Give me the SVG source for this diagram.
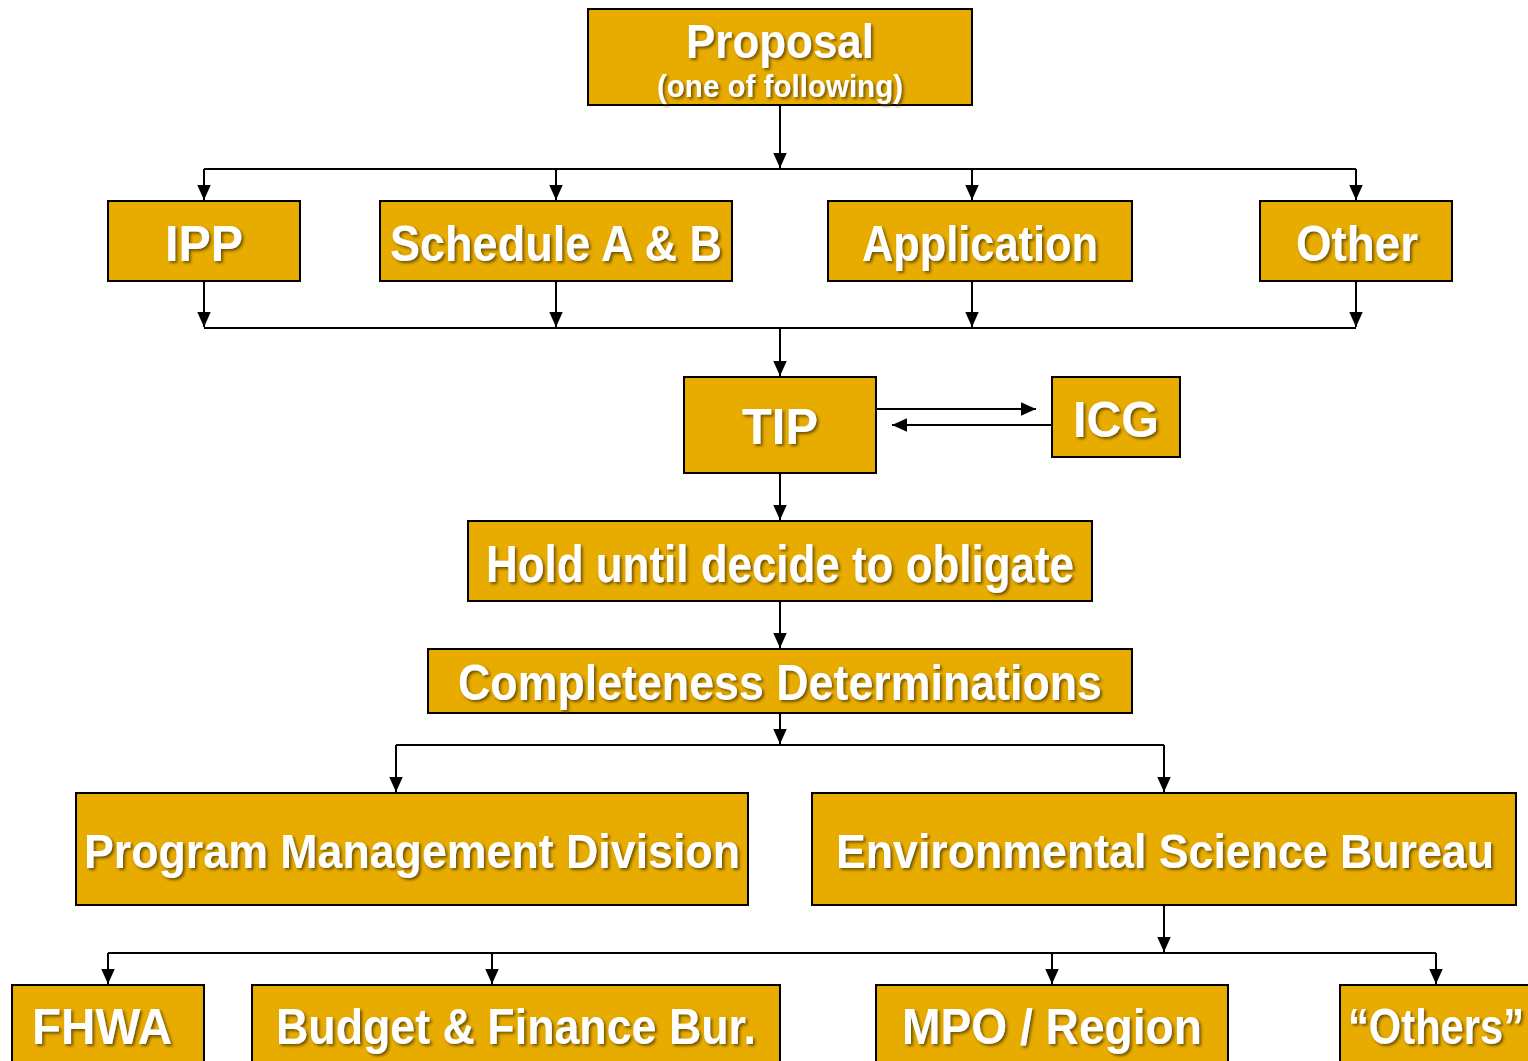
<svg xmlns="http://www.w3.org/2000/svg" width="1528" height="1061" viewBox="0 0 1528 1061">
<defs>
<marker id="ah" viewBox="0 0 10 10" refX="10" refY="5" markerWidth="7.5" markerHeight="7.5" markerUnits="strokeWidth" orient="auto">
<path d="M0,0.5 L10,5 L0,9.5 z" fill="#000"/>
</marker>
<filter id="sh" x="-10%" y="-30%" width="120%" height="160%">
<feGaussianBlur in="SourceAlpha" stdDeviation="1.5"/>
<feOffset dx="1.5" dy="2" result="b"/>
<feFlood flood-color="#5a4200" flood-opacity="0.85"/>
<feComposite in2="b" operator="in" result="s"/>
<feMerge><feMergeNode in="s"/><feMergeNode in="SourceGraphic"/></feMerge>
</filter>
</defs>
<style>
.box{fill:#E8AC00;stroke:#000;stroke-width:2}
.t{font-family:"Liberation Sans",Arial,sans-serif;font-weight:bold;fill:#fff;text-anchor:start;filter:url(#sh)}
.c{fill:none;stroke:#000;stroke-width:2}
.a{fill:none;stroke:#000;stroke-width:2;marker-end:url(#ah)}
</style>
<rect width="1528" height="1061" fill="#fff"/>
<g id="connectors">
<path class="a" d="M780,105 V168"/>
<path class="c" d="M204,169 H1356"/>
<path class="a" d="M204,169 V200"/>
<path class="a" d="M556,169 V200"/>
<path class="a" d="M972,169 V200"/>
<path class="a" d="M1356,169 V200"/>
<path class="a" d="M204,281 V327"/>
<path class="a" d="M556,281 V327"/>
<path class="a" d="M972,281 V327"/>
<path class="a" d="M1356,281 V327"/>
<path class="c" d="M204,328 H1356"/>
<path class="a" d="M780,328 V376"/>
<path class="a" d="M876,409 H1036"/>
<path class="a" d="M1052,425 H892"/>
<path class="a" d="M780,473 V520"/>
<path class="a" d="M780,601 V648"/>
<path class="a" d="M780,713 V744"/>
<path class="c" d="M396,745 H1164"/>
<path class="a" d="M396,745 V792"/>
<path class="a" d="M1164,745 V792"/>
<path class="a" d="M1164,905 V952"/>
<path class="c" d="M108,953 H1436"/>
<path class="a" d="M108,953 V984"/>
<path class="a" d="M492,953 V984"/>
<path class="a" d="M1052,953 V984"/>
<path class="a" d="M1436,953 V984"/>
</g>
<g id="proposal"><rect class="box" x="588" y="9" width="384" height="96"/>
<text class="t" x="686" y="58" font-size="48" textLength="188" lengthAdjust="spacingAndGlyphs">Proposal</text>
<text class="t" x="657" y="97" font-size="31" textLength="246" lengthAdjust="spacingAndGlyphs">(one of following)</text></g>
<g id="ipp"><rect class="box" x="108" y="201" width="192" height="80"/>
<text class="t" x="165" y="261" font-size="50" textLength="78" lengthAdjust="spacingAndGlyphs">IPP</text></g>
<g id="schedule"><rect class="box" x="380" y="201" width="352" height="80"/>
<text class="t" x="390" y="261" font-size="50" textLength="332" lengthAdjust="spacingAndGlyphs">Schedule A &amp; B</text></g>
<g id="application"><rect class="box" x="828" y="201" width="304" height="80"/>
<text class="t" x="862" y="261" font-size="50" textLength="236" lengthAdjust="spacingAndGlyphs">Application</text></g>
<g id="other"><rect class="box" x="1260" y="201" width="192" height="80"/>
<text class="t" x="1296" y="261" font-size="50" textLength="122" lengthAdjust="spacingAndGlyphs">Other</text></g>
<g id="tip"><rect class="box" x="684" y="377" width="192" height="96"/>
<text class="t" x="742" y="444" font-size="50" textLength="76" lengthAdjust="spacingAndGlyphs">TIP</text></g>
<g id="icg"><rect class="box" x="1052" y="377" width="128" height="80"/>
<text class="t" x="1073" y="437" font-size="50" textLength="86" lengthAdjust="spacingAndGlyphs">ICG</text></g>
<g id="hold"><rect class="box" x="468" y="521" width="624" height="80"/>
<text class="t" x="486" y="582" font-size="52" textLength="588" lengthAdjust="spacingAndGlyphs">Hold until decide to obligate</text></g>
<g id="completeness"><rect class="box" x="428" y="649" width="704" height="64"/>
<text class="t" x="458" y="700" font-size="50" textLength="644" lengthAdjust="spacingAndGlyphs">Completeness Determinations</text></g>
<g id="pmd"><rect class="box" x="76" y="793" width="672" height="112"/>
<text class="t" x="84" y="868" font-size="49" textLength="656" lengthAdjust="spacingAndGlyphs">Program Management Division</text></g>
<g id="esb"><rect class="box" x="812" y="793" width="704" height="112"/>
<text class="t" x="836" y="868" font-size="49" textLength="658" lengthAdjust="spacingAndGlyphs">Environmental Science Bureau</text></g>
<g id="fhwa"><rect class="box" x="12" y="985" width="192" height="90"/>
<text class="t" x="32" y="1044" font-size="50" textLength="140" lengthAdjust="spacingAndGlyphs">FHWA</text></g>
<g id="budget"><rect class="box" x="252" y="985" width="528" height="90"/>
<text class="t" x="276" y="1044" font-size="50" textLength="480" lengthAdjust="spacingAndGlyphs">Budget &amp; Finance Bur.</text></g>
<g id="mpo"><rect class="box" x="876" y="985" width="352" height="90"/>
<text class="t" x="902" y="1044" font-size="50" textLength="300" lengthAdjust="spacingAndGlyphs">MPO / Region</text></g>
<g id="others"><rect class="box" x="1340" y="985" width="200" height="90"/>
<text class="t" x="1348" y="1044" font-size="50" textLength="176" lengthAdjust="spacingAndGlyphs">“Others”</text></g>
</svg>
